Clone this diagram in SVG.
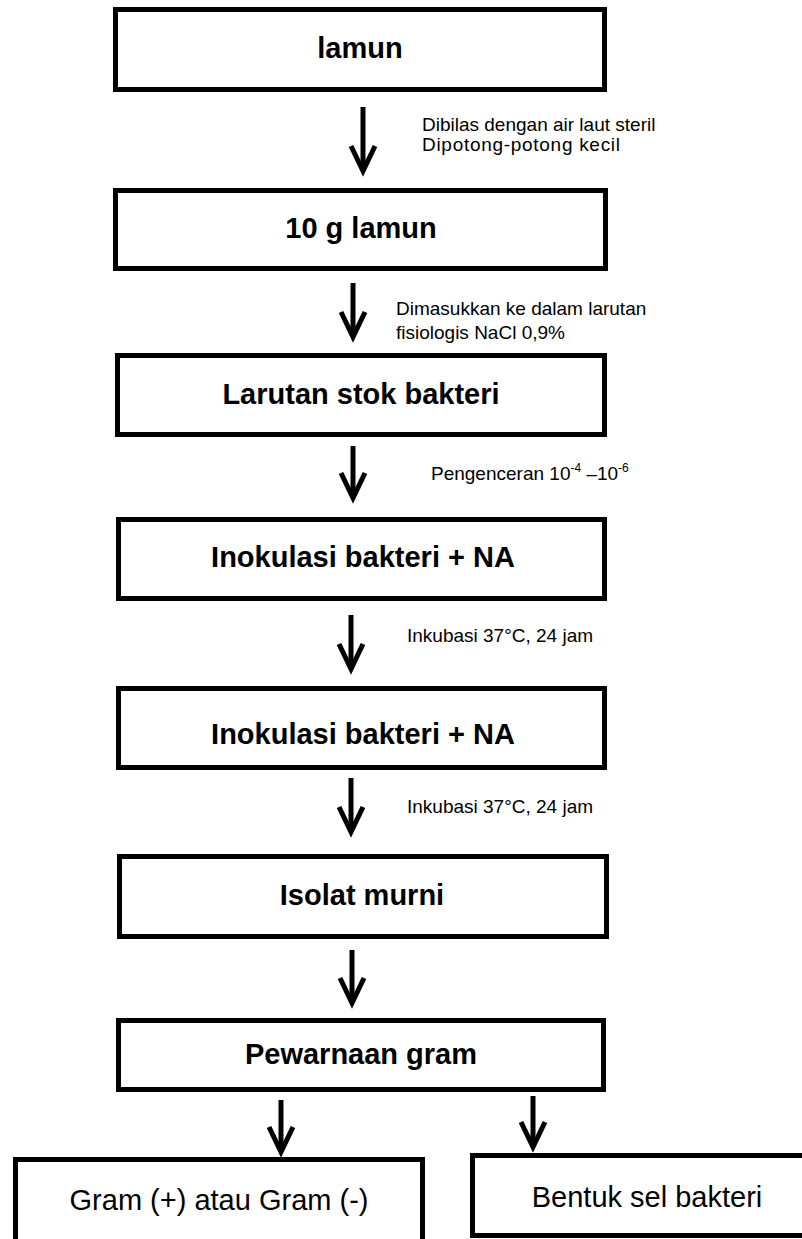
<svg xmlns="http://www.w3.org/2000/svg" width="802" height="1239" viewBox="0 0 802 1239">
<style>
.box{fill:#fff;stroke:#000;stroke-width:5}
.t{font-family:"Liberation Sans",Arial,sans-serif;font-weight:bold;font-size:29px;fill:#000;text-anchor:middle}
.r{font-family:"Liberation Sans",Arial,sans-serif;font-size:29px;fill:#000;text-anchor:middle}
.n{font-family:"Liberation Sans",Arial,sans-serif;font-size:19px;fill:#000}
.c{stroke:#000;stroke-width:5;fill:none}
</style>
<defs>
<marker id="ah" viewBox="-30 -16 36 32" refX="0" refY="0" markerWidth="36" markerHeight="32" markerUnits="userSpaceOnUse" orient="auto">
<path d="M-25,-12 L0,0 L-25,12" fill="none" stroke="#000" stroke-width="5" stroke-linejoin="miter"/>
</marker>
</defs>
<rect width="802" height="1239" fill="#fff"/>
<g id="connectors">
<line class="c" x1="363" y1="107" x2="363" y2="171" marker-end="url(#ah)"/>
<line class="c" x1="353" y1="283" x2="353" y2="337" marker-end="url(#ah)"/>
<line class="c" x1="353" y1="446" x2="353" y2="498" marker-end="url(#ah)"/>
<line class="c" x1="351" y1="615" x2="351" y2="669" marker-end="url(#ah)"/>
<line class="c" x1="351" y1="778" x2="351" y2="832" marker-end="url(#ah)"/>
<line class="c" x1="352" y1="950" x2="352" y2="1003" marker-end="url(#ah)"/>
<line class="c" x1="281" y1="1100" x2="281" y2="1152" marker-end="url(#ah)"/>
<line class="c" x1="533" y1="1096" x2="533" y2="1147" marker-end="url(#ah)"/>
<text class="n" x="422" y="131">Dibilas dengan air laut steril</text>
<text class="n" x="422" y="151" textLength="198" lengthAdjust="spacing">Dipotong-potong kecil</text>
<text class="n" x="396" y="315">Dimasukkan ke dalam larutan</text>
<text class="n" x="396" y="339">fisiologis NaCl 0,9%</text>
<text class="n" x="431" y="480">Pengenceran 10<tspan font-size="12" dy="-8">-4</tspan><tspan dy="8"> –10</tspan><tspan font-size="12" dy="-8">-6</tspan></text>
<text class="n" x="407" y="642">Inkubasi 37°C, 24 jam</text>
<text class="n" x="407" y="813">Inkubasi 37°C, 24 jam</text>
</g>
<g id="n1"><rect class="box" x="115.5" y="9.5" width="489" height="80"/><text class="t" x="360" y="58">lamun</text></g>
<g id="n2"><rect class="box" x="115.5" y="190.5" width="490" height="78"/><text class="t" x="361" y="238">10 g lamun</text></g>
<g id="n3"><rect class="box" x="117.5" y="355.5" width="487" height="79"/><text class="t" x="361" y="404">Larutan stok bakteri</text></g>
<g id="n4"><rect class="box" x="118.5" y="519.5" width="486" height="79"/><text class="t" x="363" y="567">Inokulasi bakteri + NA</text></g>
<g id="n5"><rect class="box" x="118.5" y="688.5" width="486" height="79"/><text class="t" x="363" y="744">Inokulasi bakteri + NA</text></g>
<g id="n6"><rect class="box" x="119.5" y="856.5" width="487" height="80"/><text class="t" x="362" y="905">Isolat murni</text></g>
<g id="n7"><rect class="box" x="118.5" y="1020.5" width="485" height="69"/><text class="t" x="361" y="1064">Pewarnaan gram</text></g>
<g id="n8"><rect class="box" x="15.5" y="1159.5" width="407" height="100"/><text class="r" x="219" y="1210">Gram (+) atau Gram (-)</text></g>
<g id="n9"><rect class="box" x="472.5" y="1155.5" width="360" height="80"/><text class="r" x="647" y="1207">Bentuk sel bakteri</text></g>
</svg>
